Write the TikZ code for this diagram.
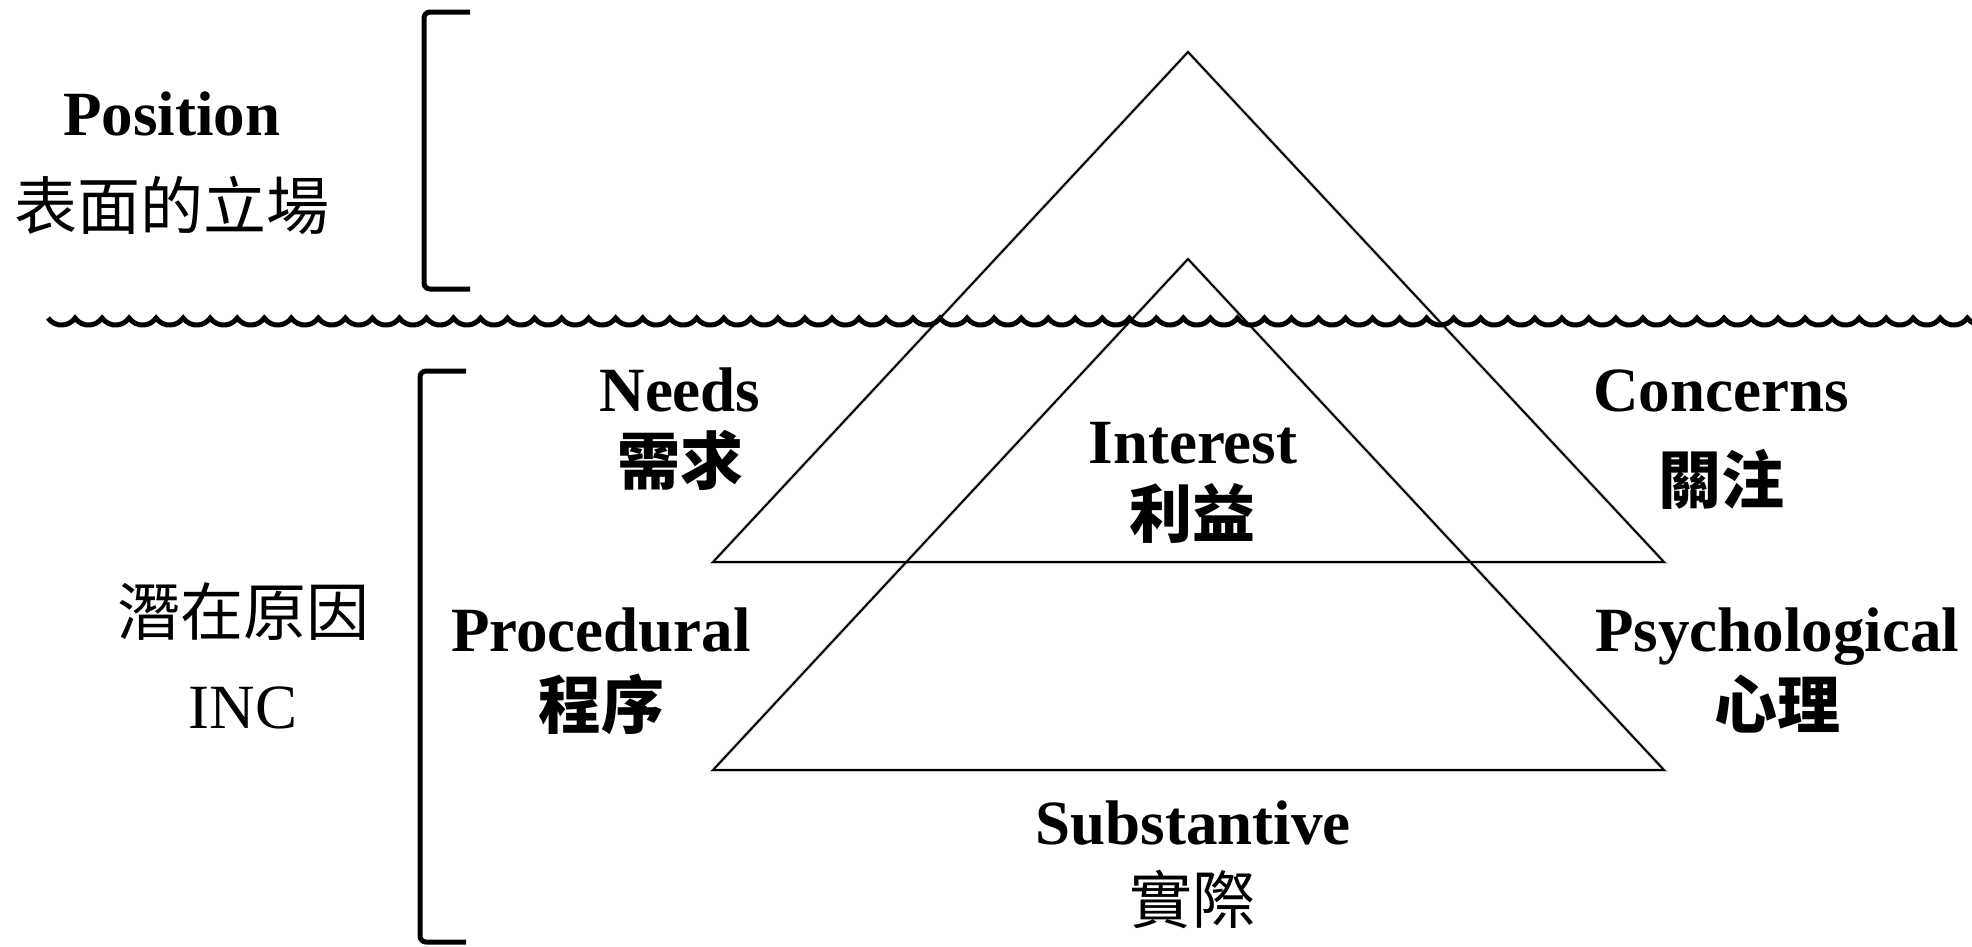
\documentclass[tikz,border=0pt]{standalone}
\usepackage{fontspec}
\setmainfont{Liberation Serif}
\newfontfamily\cjk{Noto Sans CJK TC}
\begin{document}
\begin{tikzpicture}[x=1pt,y=-1pt,
  en/.style={font=\fontsize{63}{70}\selectfont\bfseries, anchor=base, inner sep=0pt},
  enr/.style={font=\fontsize{63}{70}\selectfont, anchor=base, inner sep=0pt},
  zh/.style={font=\fontsize{63}{70}\selectfont\cjk, anchor=base, inner sep=0pt},
  zhb/.style={font=\fontsize{63}{70}\selectfont\cjk\bfseries, anchor=base, inner sep=0pt},
  tri/.style={draw=black, line width=2pt, line join=miter},
  triShadow/.style={draw=black!20, line width=4pt, opacity=0.5},
  bracket/.style={draw=black, line width=5pt, rounded corners=6pt},
  wave/.style={draw=black, line width=5pt}]
\useasboundingbox (0,0) rectangle (1972,946);

% pyramid corners
\coordinate (A1) at (1188,52);  \coordinate (L1) at (713,562); \coordinate (R1) at (1664,562);
\coordinate (A2) at (1188,259); \coordinate (L2) at (713,770); \coordinate (R2) at (1664,770);

% soft shadows under the triangles
\begin{scope}[shift={(2,3)}]
  \draw[triShadow] (A1) -- (L1) -- (R1) -- cycle;
  \draw[triShadow] (A2) -- (L2) -- (R2) -- cycle;
\end{scope}
\draw[tri] (A1) -- (L1) -- (R1) -- cycle;
\draw[tri] (A2) -- (L2) -- (R2) -- cycle;

% water line
\draw[wave] (48,318) \foreach \i in {0,...,72}{ arc[start angle=145, end angle=35, radius=16.5] };

% brackets
\draw[bracket] (470,12) -- (424,12) -- (424,289) -- (470,289);
\draw[bracket] (466,371) -- (420,371) -- (420,942) -- (466,942);

% left labels
\node[en] (pos) at (172,135) {Position};
\node[zh] (posz) at (172,229) {表面的立場};
\node[zh] (inc) at (243,635) {潛在原因};
\node[enr] (incE) at (243,728) {INC};

% labels around the pyramid
\node[en] (needs) at (680,411) {Needs};
\node[zhb] (needsz) at (680,484) {需求};
\node[en] (interest) at (1193,463) {Interest};
\node[zhb] (interestz) at (1192,537) {利益};
\node[en] (concerns) at (1721,411) {Concerns};
\node[zhb] (concernsz) at (1721,503) {關注};
\node[en] (proc) at (601,651) {Procedural};
\node[zhb] (procz) at (601,728) {程序};
\node[en] (psy) at (1777,651) {Psychological};
\node[zhb] (psyz) at (1777,728) {心理};
\node[en] (sub) at (1193,844) {Substantive};
\node[zh] (subz) at (1192,923) {實際};
\end{tikzpicture}
\end{document}
